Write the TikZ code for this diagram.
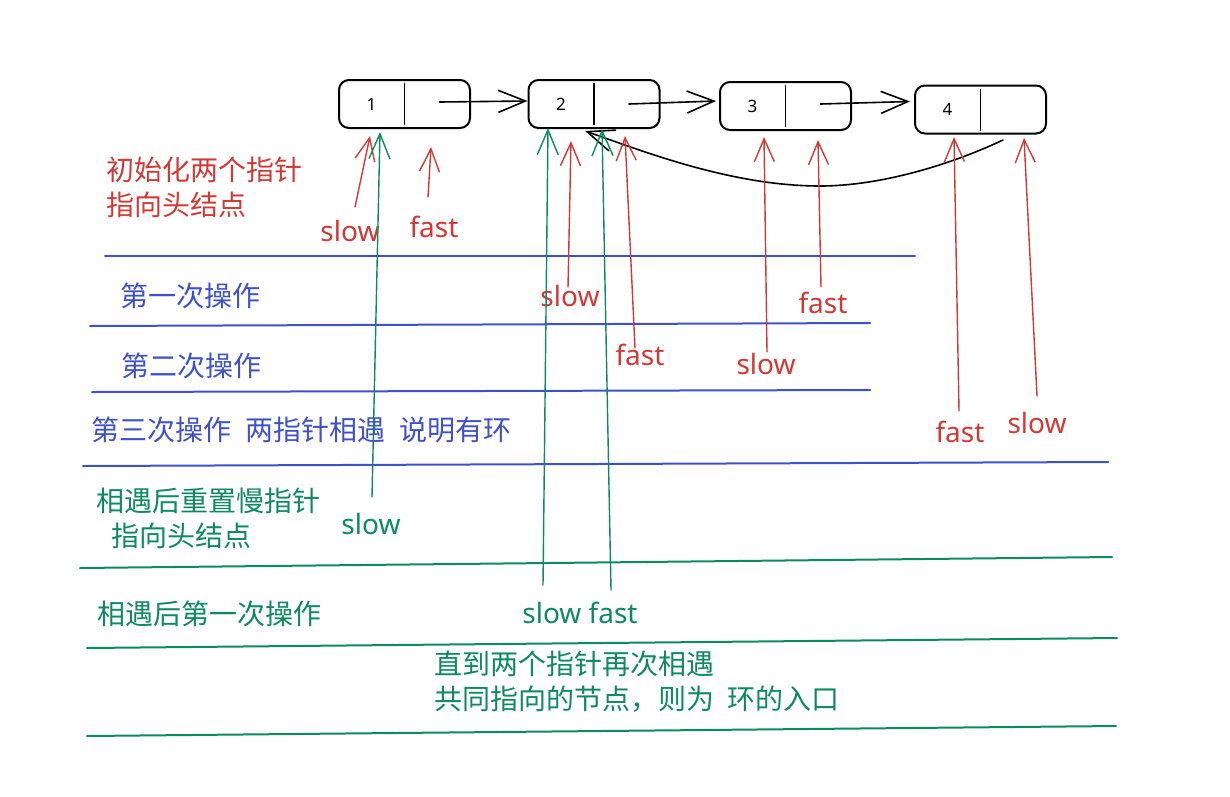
\documentclass[tikz,border=0pt]{standalone}
\usepackage{fontspec}
\newfontfamily\cjk{Noto Sans CJK SC}
\newfontfamily\hand{Noto Sans}
\usetikzlibrary{arrows.meta}
\definecolor{myred}{HTML}{D03A36}
\definecolor{myblue}{HTML}{3F51C8}
\definecolor{mygreen}{HTML}{0E8A5F}
\begin{document}
\begin{tikzpicture}[x=1pt,y=-1pt,
  box/.style={draw=black,line width=2pt,rounded corners=10pt,minimum width=131pt,minimum height=48pt,inner sep=0pt},
  num/.style={font=\fontsize{17}{17}\selectfont\hand},
  link/.style={draw=black,line width=1.6pt,line cap=round,-{Straight Barb[length=27pt,width=22pt]}},
  rptr/.style={draw=myred,line width=1.4pt,line cap=round,-{Straight Barb[length=23pt,width=20pt]}},
  gptr/.style={draw=mygreen,line width=1.4pt,line cap=round,-{Straight Barb[length=25pt,width=21pt]}},
  lbl/.style={font=\fontsize{28}{28}\selectfont\hand,inner sep=0pt},
  ctext/.style={font=\fontsize{28}{35}\selectfont\cjk,inner sep=0pt,anchor=west,align=left},
  bline/.style={draw=myblue,line width=2pt,line cap=round},
  gline/.style={draw=mygreen,line width=2pt,line cap=round}
]
\useasboundingbox (0,0) rectangle (1230,796);
\fill[white] (0,0) rectangle (1230,796);

% list boxes
\node[box] (b1) at (404.5,104) {};
\node[box] (b2) at (594,104) {};
\node[box] (b3) at (785.5,106) {};
\node[box] (b4) at (980.5,109.5) {};
\foreach \b/\t in {b1/1,b2/2,b3/3,b4/4}{
  \draw[line width=1.8pt] ([yshift=-4pt]\b.north) -- ([yshift=4pt]\b.south);
  \node[num] (\b t) at ([xshift=-33pt]\b.center) {\t};
}
\draw[link] ([xshift=35pt,yshift=2pt]b1.center) -- ([yshift=3pt]b2.west);
\draw[link] ([xshift=35pt]b2.center) -- ([xshift=-3pt,yshift=5pt]b3.west);
\draw[link] ([xshift=35pt,yshift=2pt]b3.center) -- ([xshift=-4pt,yshift=8pt]b4.west);
% loop back
\coordinate (loopS) at (1003,140);
\coordinate (loopE) at (585,131);
\draw[link] (loopS) .. controls (950,165) and (880,186) .. (820,186)
                    .. controls (730,186) and (640,150) .. (loopE);

% horizontal rules
\draw[bline] (105,256) -- (915,256);
\draw[bline] (90,326) -- (870,323);
\draw[bline] (92,392) -- (870,390);
\draw[bline] (83,466) -- (1108,462);
\draw[gline] (80,568) -- (1112,557);
\draw[gline] (87,648) -- (1117,638);
\draw[gline] (87,736) -- (1116,726);

% texts
\node[ctext,text=myred] (t0) at (106,187) {初始化两个指针\\指向头结点};
\node[ctext,text=myblue] (t1) at (120,296) {第一次操作};
\node[ctext,text=myblue] (t2) at (121,366) {第二次操作};
\node[ctext,text=myblue] (t3) at (91,430) {第三次操作\hspace{14pt}两指针相遇\hspace{14pt}说明有环};
\node[ctext,text=mygreen] (t4) at (96,518) {相遇后重置慢指针\\\hspace*{15pt}指向头结点};
\node[ctext,text=mygreen] (t5) at (97,614) {相遇后第一次操作};
\node[ctext,text=mygreen] (t6) at (434,682) {直到两个指针再次相遇\\共同指向的节点，则为\hspace{13pt}环的入口};

% pointer labels
\node[lbl,text=myred] (rs0) at (350,231) {slow};
\node[lbl,text=myred] (rf0) at (434,227) {fast};
\node[lbl,text=myred] (rs1) at (570,296) {slow};
\node[lbl,text=myred] (rf1) at (823,303) {fast};
\node[lbl,text=myred] (rf2) at (640,355) {fast};
\node[lbl,text=myred] (rs2) at (766,364) {slow};
\node[lbl,text=myred] (rf3) at (960,432) {fast};
\node[lbl,text=myred] (rs3) at (1037,423) {slow};
\node[lbl,text=mygreen] (gs0) at (371,524) {slow};
\node[lbl,text=mygreen] (gsf) at (580,613) {slow fast};

% pointer arrow ends
\coordinate (rs0t) at (355,207); \coordinate (rs0h) at (370,136);
\coordinate (rf0t) at (428,197); \coordinate (rf0h) at (431,147);
\coordinate (rs1t) at (568,287); \coordinate (rs1h) at (571,141);
\coordinate (rf1t) at (821,287); \coordinate (rf1h) at (818,140);
\coordinate (rf2t) at (635,348); \coordinate (rf2h) at (625,136);
\coordinate (rs2t) at (767,352); \coordinate (rs2h) at (764,137);
\coordinate (rf3t) at (959,411); \coordinate (rf3h) at (954,137);
\coordinate (rs3t) at (1037,396); \coordinate (rs3h) at (1024,138);
\coordinate (gs0t) at (372,497); \coordinate (gs0h) at (380,132);
\coordinate (gs1t) at (543,585); \coordinate (gs1h) at (548,128);
\coordinate (gf1t) at (611,590); \coordinate (gf1h) at (602,129);

\draw[rptr] (rs0t) -- (rs0h);
\draw[rptr] (rf0t) -- (rf0h);
\draw[rptr] (rs1t) -- (rs1h);
\draw[rptr] (rf1t) -- (rf1h);
\draw[rptr] (rf2t) -- (rf2h);
\draw[rptr] (rs2t) -- (rs2h);
\draw[rptr] (rf3t) -- (rf3h);
\draw[rptr] (rs3t) -- (rs3h);
\draw[gptr] (gs0t) -- (gs0h);
\draw[gptr] (gs1t) -- (gs1h);
\draw[gptr] (gf1t) -- (gf1h);
\end{tikzpicture}
\end{document}
